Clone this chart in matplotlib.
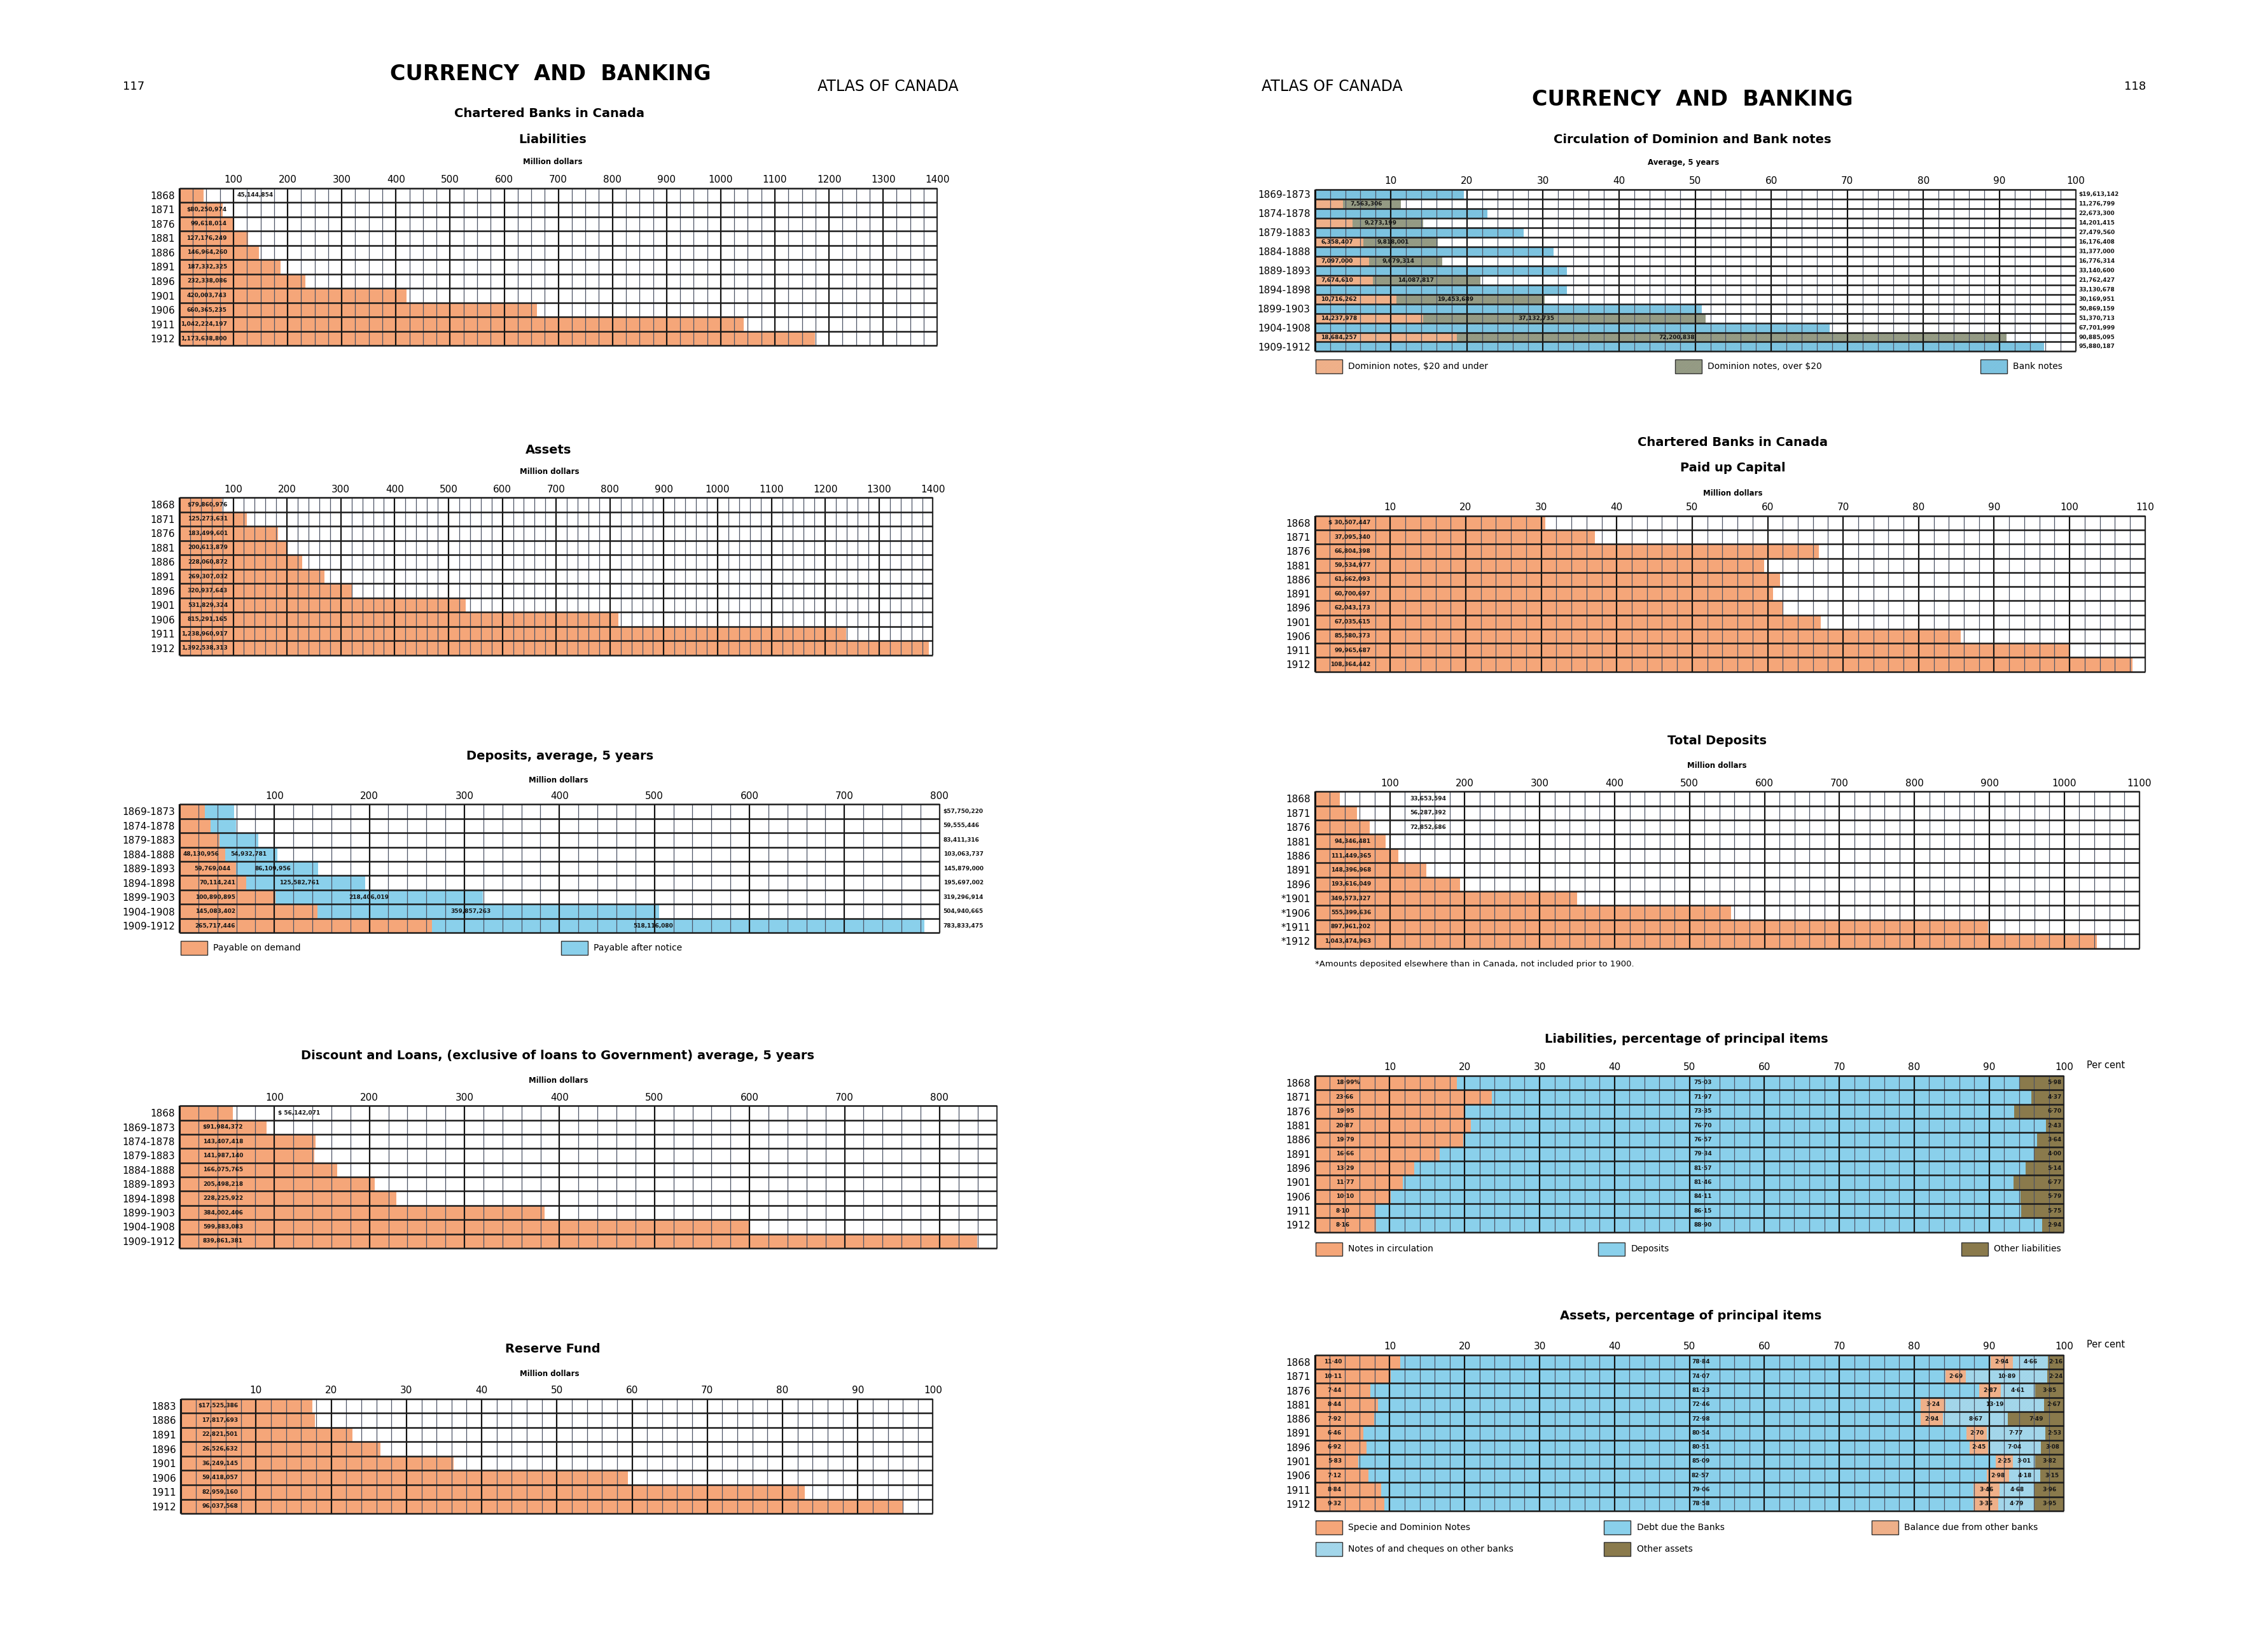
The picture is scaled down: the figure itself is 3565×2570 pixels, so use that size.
import matplotlib
matplotlib.use("Agg")
import matplotlib.pyplot as plt
from matplotlib.patches import Rectangle
import numpy as np

plt.rcParams['font.family'] = ['DejaVu Sans']
plt.rcParams['hatch.linewidth'] = 0.7


census_years = ["1868", "1871", "1876", "1881", "1886", "1891", "1896", "1901", "1906", "1911", "1912"]
five_year = ["1869-1873", "1874-1878", "1879-1883", "1884-1888", "1889-1893",
             "1894-1898", "1899-1903", "1904-1908", "1909-1912"]

liabilities = [45144854, 80250974, 99618014, 127176249, 146964260, 187332325,
               232338086, 420003743, 660365235, 1042224197, 1173638800]
assets = [79860976, 125273631, 183499601, 200613879, 228060872, 269307032,
          320937643, 531829324, 815291165, 1238960917, 1392538313]

deposits_demand = [26500000, 33000000, 42000000, 48130956, 59769044, 70114241,
                   100890895, 145083402, 265717446]
deposits_notice = [31250220, 26555446, 41411316, 54932781, 86109956, 125582761,
                   218406019, 359857263, 518116080]
deposits_total = [57750220, 59555446, 83411316, 103063737, 145879000, 195697002,
                  319296914, 504940665, 783833475]

loan_periods = ["1868"] + five_year
discounts = [56142071, 91984372, 143407418, 141987140, 166075765, 205498218,
             228225922, 384002406, 599883083, 839861381]

reserve_years = ["1883", "1886", "1891", "1896", "1901", "1906", "1911", "1912"]
reserve_fund = [17525386, 17817693, 22821501, 26526632, 36249145, 59418057, 82959160, 96037568]

bank_notes = [19613142, 22673300, 27479560, 31377000, 33140600, 33130678,
              50869159, 67701999, 95880187]
dominion_small = [3713493, 4928216, 6358407, 7097000, 7674610, 10716262, 14237978, 18684257]
dominion_large = [7563306, 9273199, 9818001, 9679314, 14087817, 19453689, 37132735, 72200838]

paid_up_capital = [30507447, 37095340, 66804398, 59534977, 61662093, 60700697,
                   62043173, 67035615, 85580373, 99965687, 108364442]

deposit_years = ["1868", "1871", "1876", "1881", "1886", "1891", "1896",
                 "*1901", "*1906", "*1911", "*1912"]
total_deposits = [33653594, 56287392, 72852686, 94346481, 111449365, 148396968,
                  193616049, 349573327, 555399636, 897961202, 1043474963]

liab_notes = [18.99, 23.66, 19.95, 20.87, 19.79, 16.66, 13.29, 11.77, 10.10, 8.10, 8.16]
liab_deposits = [75.03, 71.97, 73.35, 76.70, 76.57, 79.34, 81.57, 81.46, 84.11, 86.15, 88.90]
liab_other = [5.98, 4.37, 6.70, 2.43, 3.64, 4.00, 5.14, 6.77, 5.79, 5.75, 2.94]

asset_specie = [11.40, 10.11, 7.44, 8.44, 7.92, 6.46, 6.92, 5.83, 7.12, 8.84, 9.32]
asset_debt = [78.84, 74.07, 81.23, 72.46, 72.98, 80.54, 80.51, 85.09, 82.57, 79.06, 78.58]
asset_balance = [2.94, 2.69, 2.87, 3.24, 2.94, 2.70, 2.45, 2.25, 2.98, 3.46, 3.36]
asset_cheques = [4.66, 10.89, 4.61, 13.19, 8.67, 7.77, 7.04, 3.01, 4.18, 4.68, 4.79]
asset_other = [2.16, 2.24, 3.85, 2.67, 7.49, 2.53, 3.08, 3.82, 3.15, 3.96, 3.95]


# ---- colours ----
ORANGE = '#F5A679'
BLUE = '#8AD0EB'
OLIVE = '#8A7A4C'
TAN, TAN_H = '#F8CFB2', '#E99A6C'
PALE, PALE_H = '#D5F0F9', '#7FC4E0'
BANK, BANK_H = '#A6DAEE', '#5FB3D6'
GREY, GREY_H = '#B4B9A3', '#7E856E'
HATCH = '/' * 14

fig = plt.figure(figsize=(35.65, 25.70), dpi=100)
fig.patch.set_facecolor('white')

# layout was measured on a 1568 px wide preview of the page
W, H = 1568.0, 1130.4
def fx(x): return x / W
def fy(y): return 1 - y / H


def panel(x0, x1, y0, y1, rows, xmax, minor, major, ticks):
    ax = fig.add_axes([fx(x0), fy(y1), fx(x1) - fx(x0), fy(y0) - fy(y1)])
    n = len(rows)
    ax.set_xlim(0, xmax)
    ax.set_ylim(n, 0)
    for s in ax.spines.values():
        s.set_visible(False)
    xs = np.arange(0, xmax + minor / 2, minor)
    maj = [x for x in xs if abs(x / major - round(x / major)) < 1e-6]
    mnr = [x for x in xs if abs(x / major - round(x / major)) >= 1e-6]
    ax.vlines(mnr, 0, n, colors='#4d5466', lw=0.9, zorder=3, clip_on=False)
    ax.vlines(maj, 0, n, colors='#141414', lw=1.6, zorder=3, clip_on=False)
    ax.vlines([0], 0, n, colors='#141414', lw=2.2, zorder=3, clip_on=False)
    ax.vlines([xmax], 0, n, colors='#303030', lw=1.3, zorder=3, clip_on=False)
    ax.hlines(np.arange(n + 1), 0, xmax, colors='#1b1b1b', lw=1.8, zorder=3, clip_on=False)
    ax.xaxis.tick_top()
    ax.set_xticks(ticks)
    ax.set_xticklabels([str(t) for t in ticks])
    ax.tick_params(axis='x', length=0, pad=4, labelsize=11)
    ax.set_yticks(np.arange(n) + 0.5)
    ax.set_yticklabels(rows)
    ax.tick_params(axis='y', length=0, pad=5, labelsize=11)
    return ax


def tag(ax, x, row, s, ha='right', size=6.5):
    ax.text(x, row + 0.5, s, ha=ha, va='center', fontsize=size,
            fontweight='bold', color='#151515', zorder=5, clip_on=False)


def title(x, y, s, size=14, weight='bold'):
    fig.text(fx(x), fy(y), s, ha='center', va='center', fontsize=size, fontweight=weight)


def legend_patch(x, y, label, color, hatch=None, hcolor=None):
    w, h = 18.5, 9.5
    fig.add_artist(Rectangle((fx(x), fy(y + h / 2)), fx(w), h / H, transform=fig.transFigure,
                             facecolor=color, edgecolor=hcolor or color, hatch=hatch, lw=0))
    fig.add_artist(Rectangle((fx(x), fy(y + h / 2)), fx(w), h / H, transform=fig.transFigure,
                             fill=False, edgecolor='#333333', lw=1.0))
    fig.text(fx(x + w + 4), fy(y), label, ha='left', va='center', fontsize=10)


def money(v, first=False):
    return ('$' if first else '') + f"{v:,}"


def pct(v):
    return f"{v:.2f}".replace('.', '\u00b7')


# ---- page headings ----
fig.text(fx(85), fy(60), "117", ha='left', va='center', fontsize=13)
fig.text(fx(380.5), fy(51.3), "CURRENCY  AND  BANKING", ha='center', va='center',
         fontsize=24, fontweight='bold')
fig.text(fx(565), fy(60), "ATLAS OF CANADA", ha='left', va='center', fontsize=17)
fig.text(fx(872), fy(60), "ATLAS OF CANADA", ha='left', va='center', fontsize=17)
fig.text(fx(1170), fy(68.9), "CURRENCY  AND  BANKING", ha='center', va='center',
         fontsize=24, fontweight='bold')
fig.text(fx(1483.6), fy(60), "118", ha='right', va='center', fontsize=13)


# ---- Liabilities ----
title(380, 78.4, "Chartered Banks in Canada")
title(382, 96.5, "Liabilities")
title(382, 111.9, "Million dollars", 8.5)
ax = panel(124, 648, 130, 239, census_years, 1400, 25, 100, list(range(100, 1401, 100)))
v = np.array(liabilities) / 1e6
ax.barh(np.arange(len(v)) + 0.5, v, height=1, color=ORANGE, lw=0, zorder=1)
for i, val in enumerate(liabilities):
    if i == 0:
        tag(ax, 106, i, money(val), ha='left')
    else:
        tag(ax, 88, i, money(val, i == 1))

# ---- Assets ----
title(379, 311, "Assets")
title(380, 326, "Million dollars", 8.5)
ax = panel(124, 645, 344, 453, census_years, 1400, 20, 100, list(range(100, 1401, 100)))
v = np.array(assets) / 1e6
ax.barh(np.arange(len(v)) + 0.5, v, height=1, color=ORANGE, lw=0, zorder=1)
for i, val in enumerate(assets):
    tag(ax, 90, i, money(val, i == 0))

# ---- Deposits, average, 5 years ----
title(387, 522.7, "Deposits, average, 5 years")
title(386, 539.5, "Million dollars", 8.5)
ax = panel(124, 649.5, 556, 645, five_year, 800, 20, 100, list(range(100, 801, 100)))
d = np.array(deposits_demand) / 1e6
nt = np.array(deposits_notice) / 1e6
yy = np.arange(len(d)) + 0.5
ax.barh(yy, d, height=1, color=ORANGE, lw=0, zorder=1)
ax.barh(yy, nt, left=d, height=1, color=BLUE, lw=0, zorder=1)
for i in range(len(d)):
    if i >= 3:
        tag(ax, min(59, d[i] - 6), i, money(deposits_demand[i]))
        tag(ax, d[i] + 0.45 * nt[i], i, money(deposits_notice[i]), ha='center')
    tag(ax, 804, i, money(deposits_total[i], i == 0), ha='left')
legend_patch(125, 655.4, "Payable on demand", ORANGE)
legend_patch(388, 655.4, "Payable after notice", BLUE)

# ---- Discount and Loans ----
title(385.5, 730, "Discount and Loans, (exclusive of loans to Government) average, 5 years")
title(386, 747, "Million dollars", 8.5)
ax = panel(124, 689, 764.5, 863, loan_periods, 860, 20, 100, list(range(100, 801, 100)))
v = np.array(discounts) / 1e6
ax.barh(np.arange(len(v)) + 0.5, v, height=1, color=ORANGE, lw=0, zorder=1)
for i, val in enumerate(discounts):
    if i == 0:
        tag(ax, 104, i, "$ " + money(val), ha='left')
    else:
        tag(ax, 67, i, money(val, i == 1))

# ---- Reserve Fund ----
title(382, 932.7, "Reserve Fund")
title(380, 950, "Million dollars", 8.5)
ax = panel(125, 645, 967, 1046.5, reserve_years, 100, 2, 10, list(range(10, 101, 10)))
v = np.array(reserve_fund) / 1e6
ax.barh(np.arange(len(v)) + 0.5, v, height=1, color=ORANGE, lw=0, zorder=1)
for i, val in enumerate(reserve_fund):
    tag(ax, 7.6, i, money(val, i == 0))


# ---- Circulation of Dominion and Bank notes ----
title(1170, 96.5, "Circulation of Dominion and Bank notes")
title(1164, 112.6, "Average, 5 years", 8.5)
circ_rows = []
for k, p in enumerate(five_year):
    circ_rows.append(p)
    if k < len(dominion_small):
        circ_rows.append("")
ax = panel(909, 1435, 131, 243, circ_rows, 100, 2, 10, list(range(10, 101, 10)))
bank_y = np.arange(len(bank_notes)) * 2 + 0.5
dom_y = np.arange(len(dominion_small)) * 2 + 1.5
b = np.array(bank_notes) / 1e6
ds = np.array(dominion_small) / 1e6
dl = np.array(dominion_large) / 1e6
ax.barh(bank_y, b, height=1, color=BANK, edgecolor=BANK_H, hatch=HATCH, lw=0, zorder=1)
ax.barh(dom_y, ds, height=1, color=TAN, edgecolor=TAN_H, hatch=HATCH, lw=0, zorder=1)
ax.barh(dom_y, dl, left=ds, height=1, color=GREY, edgecolor=GREY_H, hatch=HATCH, lw=0, zorder=1)
for k in range(len(bank_notes)):
    tag(ax, 100.4, 2 * k, money(bank_notes[k], k == 0), ha='left')
for k in range(len(dominion_small)):
    r = 2 * k + 1
    if k >= 2:
        tag(ax, 0.8, r, money(dominion_small[k]), ha='left')
    tag(ax, ds[k] + 0.4 * dl[k], r, money(dominion_large[k]), ha='center')
    tag(ax, 100.4, r, money(dominion_small[k] + dominion_large[k]), ha='left')
legend_patch(909.6, 253.3, "Dominion notes, $20 and under", TAN, HATCH, TAN_H)
legend_patch(1158, 253.3, "Dominion notes, over $20", GREY, HATCH, GREY_H)
legend_patch(1369, 253.3, "Bank notes", BANK, HATCH, BANK_H)

# ---- Paid up Capital ----
title(1198, 305.7, "Chartered Banks in Canada")
title(1198, 323.7, "Paid up Capital")
title(1198, 340.9, "Million dollars", 8.5)
ax = panel(909, 1483, 356.6, 464.3, census_years, 110, 2, 10, list(range(10, 111, 10)))
v = np.array(paid_up_capital) / 1e6
ax.barh(np.arange(len(v)) + 0.5, v, height=1, color=ORANGE, lw=0, zorder=1)
for i, val in enumerate(paid_up_capital):
    tag(ax, 7.4, i, ("$ " if i == 0 else "") + money(val))

# ---- Total Deposits ----
title(1187, 512.4, "Total Deposits")
title(1187, 529.3, "Million dollars", 8.5)
ax = panel(909, 1479, 547.3, 655.6, deposit_years, 1100, 20, 100, list(range(100, 1101, 100)))
v = np.array(total_deposits) / 1e6
ax.barh(np.arange(len(v)) + 0.5, v, height=1, color=ORANGE, lw=0, zorder=1)
for i, val in enumerate(total_deposits):
    if i < 3:
        tag(ax, 127, i, money(val), ha='left')
    else:
        tag(ax, 75, i, money(val))
fig.text(fx(909), fy(666.4), "*Amounts deposited elsewhere than in Canada, not included prior to 1900.",
         ha='left', va='center', fontsize=9.5)

# ---- Liabilities, percentage ----
title(1166, 718.4, "Liabilities, percentage of principal items")
ax = panel(909, 1427, 743.7, 851.8, census_years, 100, 2, 10, list(range(10, 101, 10)))
ax.text(1.03, 1.035, "Per cent", transform=ax.transAxes, ha='left', va='bottom', fontsize=10.5)
n1 = np.array(liab_notes)
n2 = np.array(liab_deposits)
n3 = np.array(liab_other)
yy = np.arange(len(n1)) + 0.5
ax.barh(yy, n1, height=1, color=ORANGE, lw=0, zorder=1)
ax.barh(yy, n2, left=n1, height=1, color=BLUE, lw=0, zorder=1)
ax.barh(yy, n3, left=100 - n3, height=1, color=OLIVE, lw=0, zorder=1)
for i in range(len(n1)):
    tag(ax, 2.8, i, pct(n1[i]) + ('%' if i == 0 else ''), ha='left')
    tag(ax, 51.8, i, pct(n2[i]), ha='center')
    tag(ax, 99.7, i, pct(n3[i]))
legend_patch(909.6, 863.6, "Notes in circulation", ORANGE)
legend_patch(1105, 863.6, "Deposits", BLUE)
legend_patch(1356, 863.6, "Other liabilities", OLIVE)

# ---- Assets, percentage ----
title(1169, 910, "Assets, percentage of principal items")
ax = panel(909, 1427, 936.8, 1044.6, census_years, 100, 2, 10, list(range(10, 101, 10)))
ax.text(1.03, 1.035, "Per cent", transform=ax.transAxes, ha='left', va='bottom', fontsize=10.5)
a1 = np.array(asset_specie)
a2 = np.array(asset_debt)
a3 = np.array(asset_balance)
a4 = np.array(asset_cheques)
a5 = np.array(asset_other)
yy = np.arange(len(a1)) + 0.5
ax.barh(yy, a1, height=1, color=ORANGE, lw=0, zorder=1)
ax.barh(yy, a2, left=a1, height=1, color=BLUE, lw=0, zorder=1)
ax.barh(yy, a3, left=a1 + a2, height=1, color=TAN, edgecolor=TAN_H, hatch=HATCH, lw=0, zorder=1)
ax.barh(yy, a4, left=a1 + a2 + a3, height=1, color=PALE, edgecolor=PALE_H, hatch=HATCH, lw=0, zorder=1)
ax.barh(yy, a5, left=100 - a5, height=1, color=OLIVE, lw=0, zorder=1)
for i in range(len(a1)):
    tag(ax, 3.6, i, pct(a1[i]))
    tag(ax, 51.5, i, pct(a2[i]), ha='center')
    tag(ax, a1[i] + a2[i] + a3[i] / 2, i, pct(a3[i]), ha='center')
    tag(ax, a1[i] + a2[i] + a3[i] + a4[i] / 2, i, pct(a4[i]), ha='center')
    tag(ax, min(100 - a5[i] / 2, 98.9), i, pct(a5[i]), ha='center')
legend_patch(909.6, 1056, "Specie and Dominion Notes", ORANGE)
legend_patch(1109, 1056, "Debt due the Banks", BLUE)
legend_patch(1294, 1056, "Balance due from other banks", TAN, HATCH, TAN_H)
legend_patch(909.6, 1071, "Notes of and cheques on other banks", PALE, HATCH, PALE_H)
legend_patch(1109, 1071, "Other assets", OLIVE)

fig.savefig("out.png", dpi=100, facecolor=fig.get_facecolor())
